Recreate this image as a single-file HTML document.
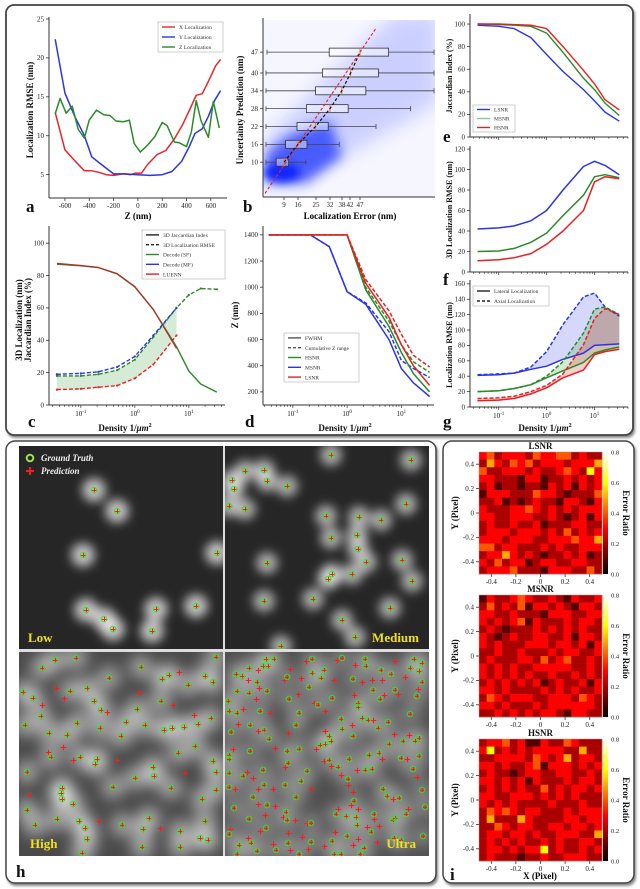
<!DOCTYPE html>
<html><head><meta charset="utf-8"><style>
html,body{margin:0;padding:0;background:#fff;}
svg{display:block;font-family:"Liberation Serif",serif;}
</style></head><body>
<svg id="fig" width="640" height="889" viewBox="0 0 640 889" xmlns="http://www.w3.org/2000/svg">
<defs>
<filter id="blur4" x="-50%" y="-50%" width="200%" height="200%"><feGaussianBlur stdDeviation="4"/></filter>
<filter id="blur5" x="-50%" y="-50%" width="200%" height="200%"><feGaussianBlur stdDeviation="5"/></filter>
<filter id="blur6" x="-50%" y="-50%" width="200%" height="200%"><feGaussianBlur stdDeviation="6"/></filter>
<filter id="blur7" x="-50%" y="-50%" width="200%" height="200%"><feGaussianBlur stdDeviation="7"/></filter>
<filter id="blur9" x="-50%" y="-50%" width="200%" height="200%"><feGaussianBlur stdDeviation="9"/></filter>
<filter id="shadow"><feGaussianBlur stdDeviation="1.2"/></filter>
<linearGradient id="hotgrad" x1="0" y1="1" x2="0" y2="0">
<stop offset="0" stop-color="#000"/><stop offset="0.375" stop-color="#f00"/><stop offset="0.75" stop-color="#ff0"/><stop offset="1" stop-color="#fff"/>
</linearGradient>
</defs>
<rect x="7" y="7" width="628" height="431" rx="8" fill="#888" filter="url(#shadow)"/>
<rect x="6" y="5" width="627" height="430" rx="8" fill="#fff" stroke="#444" stroke-width="1.8"/>
<rect x="7" y="443" width="431" height="443" rx="9" fill="#888" filter="url(#shadow)"/>
<rect x="6" y="441" width="430" height="442" rx="9" fill="#fff" stroke="#444" stroke-width="1.5"/>
<rect x="444" y="443" width="192" height="443" rx="9" fill="#888" filter="url(#shadow)"/>
<rect x="443" y="441" width="191" height="442" rx="9" fill="#fff" stroke="#444" stroke-width="1.5"/>
</svg>
<script>
// ---------------- DATA ----------------
const aXx=[-680,-600,-520,-440,-380,-320,-260,-200,-120,-60,-20,30,80,160,230,300,370,430,480,530,580,640,680];
const aXy=[13,8.2,6.8,5.5,5.5,5.3,5.0,4.9,5.1,5.0,5.2,5.2,6.3,7.6,8.1,9.6,11.5,13.5,15.2,15.4,17,19,19.8];
const aYx=[-680,-600,-520,-440,-380,-300,-200,-100,0,100,200,280,360,420,470,530,580,630,680];
const aYy=[22.4,15.5,12.5,10,7.3,6.3,5.1,5.1,5.0,4.9,5.0,5.4,6.7,8.5,10.3,10.9,12.5,14.5,15.8];
const aZx=[-680,-640,-590,-540,-490,-440,-400,-340,-280,-230,-180,-120,-70,-30,20,80,140,200,240,300,340,400,440,480,520,580,620,670];
const aZy=[12.8,14.8,12.9,13.8,10.8,9.7,12,13.3,12.7,12.6,11.9,11.8,12,9,7.9,8.8,9.9,11.7,11.3,9.2,9.1,8.6,10.5,14.5,11.9,9.8,14.4,11];
const aXTicks=[-600,-400,-200,0,200,400,600];
const aYTicks=[5,10,15,20,25];
const bCats=[10,16,22,28,34,40,47];
const bQ1=[5.1,9.8,15.5,20.2,24.8,28.2,31.6];
const bMed=[9,16,24.8,32,37.9,42.3,47];
const bQ3=[11.3,20.5,31.1,41.1,49.9,56.2,61.3];
const bWlo=[0,0,0,0,0,0,0.5];
const bWhi=[19.9,36.6,55,72.3,84,84,84];
const bXTicks=[9,16,25,32,38,42,47];
const dens=[0.036,0.1,0.21,0.47,1,2.2,5.9,10,16.6,33];
const cJacGreen=[87,86,85,81,73,59,36,21,13,8];
const cJacRed=[87.5,86.2,85,81.2,73.2,59,35];
const cRmseGreen=[18,18,19,21.5,28,42,60,68,72,71.5];
const cRmseBlue=[19,19.5,20.5,23.5,30,43,60];
const cRmseRed=[9.5,10,11,12,16.5,25,43];
const cYTicks=[0,20,40,60,80,100];
const dRedSolid=[1400,1400,1400,1400,1400,1030,770,560,400,250];
const dRedDash=[1400,1400,1400,1400,1400,1060,820,640,480,390];
const dGreenSolid=[1400,1400,1400,1400,1400,980,700,500,340,200];
const dGreenDash=[1400,1400,1400,1400,1400,1000,740,560,430,350];
const dBlueSolid=[1400,1400,1400,1310,966,870,600,378,270,165];
const dBlueDash=[1400,1400,1400,1310,966,880,660,440,380,310];
const dYTicks=[200,400,600,800,1000,1200,1400];
const eRed=[100,100,99.5,99,96,80,59,47,33,24];
const eGreen=[100,99.5,99,98,92,75,52,42,30,19];
const eBlue=[99,98,96,88,73,58,42,32,22,14];
const eYTicks=[0,20,40,60,80,100];
const fBlue=[42,43,45,50,60,80,103,108,104,95];
const fGreen=[20,20.5,23,29,38,55,75,93,95,92];
const fRed=[11,12,14,18,27,40,60,88,93,91];
const fYTicks=[0,20,40,60,80,100,120];
const gBlueSolid=[41,42,44,49,53,62,70,80,81,82];
const gBlueDash=[42,43,44,52,72,107,143,148,130,118];
const gGreenSolid=[20,21,24,29,38,47,58,70,74,78];
const gGreenDash=[20,21,24,29,40,59,96,127,130,120];
const gRedSolid=[8,9,11,17,25,38,48,68,72,75];
const gRedDash=[11,12,14,20,28,43,81,115,128,120];
const gYTicks=[0,20,40,60,80,100,120,140,160];
const lowPts=[[75,44],[98,65],[64,109],[198,107],[67,164],[85,173],[94,183],[137,163],[133,185],[177,160]];
const medPts=[[106,9],[186,14],[20,25],[39,24],[7,34],[9,43],[42,35],[62,40],[4,60],[20,63],[181,58],[101,70],[134,71],[156,74],[106,92],[132,89],[133,103],[141,116],[42,117],[107,128],[103,133],[127,128],[177,114],[187,135],[88,153],[39,155],[165,162],[117,174],[130,191],[56,200]];
const highGT=[[23,16],[36,8],[57,6],[122,15],[90,26],[143,27],[150,23],[169,33],[186,24],[194,30],[197,5],[4,40],[14,46],[51,39],[68,36],[75,49],[82,58],[142,49],[22,64],[6,73],[30,81],[48,83],[58,71],[81,76],[107,70],[118,57],[126,73],[145,78],[153,76],[165,75],[179,72],[192,66],[176,94],[102,84],[32,105],[61,105],[78,107],[76,112],[159,101],[194,109],[197,120],[134,115],[135,124],[116,126],[8,120],[94,135],[152,136],[43,136],[42,141],[43,147],[54,152],[8,158],[183,147],[197,138],[16,173],[38,167],[60,169],[66,176],[68,187],[103,173],[130,166],[124,177],[161,179],[161,195],[181,186],[189,188],[123,195],[63,201],[186,169]];
const highPredOnly=[[37,36],[45,46],[23,53],[44,95],[98,108],[166,121],[80,169],[141,176],[175,63],[154,53],[10,142],[54,108],[29,100],[88,60],[120,40],[160,20]];
const ultraGT=[[41,7],[49,7],[87,7],[117,6],[140,7],[189,7],[197,11],[24,16],[38,14],[43,14],[99,18],[141,14],[156,18],[185,16],[194,19],[11,22],[17,24],[62,25],[87,21],[96,26],[128,27],[166,22],[197,30],[32,30],[12,39],[24,41],[42,39],[84,35],[148,38],[170,38],[192,44],[64,47],[107,46],[155,47],[3,49],[93,53],[133,51],[133,55],[4,59],[12,61],[35,59],[74,61],[185,62],[116,67],[137,66],[143,68],[163,70],[25,73],[71,73],[153,76],[6,80],[39,78],[117,77],[128,84],[104,84],[44,87],[106,89],[178,89],[194,86],[190,89],[100,92],[95,93],[164,92],[25,99],[62,99],[74,97],[4,103],[4,107],[144,103],[154,101],[176,106],[194,104],[104,108],[124,107],[63,111],[113,115],[140,118],[147,117],[188,117],[38,118],[82,119],[4,121],[18,124],[123,127],[76,129],[39,133],[60,133],[4,135],[158,137],[197,138],[28,145],[71,145],[162,144],[174,146],[129,149],[200,155],[42,153],[9,156],[61,160],[111,162],[121,164],[131,165],[149,162],[181,162],[24,167],[62,168],[170,166],[168,168],[86,171],[41,176],[132,173],[4,182],[146,180],[198,184],[122,184],[169,186],[176,188],[26,191],[86,190],[107,189],[14,193],[63,191],[51,198],[32,199],[12,202],[74,202],[109,202],[116,202],[135,202],[139,196]];
const ultraPredOnly=[[81,9],[112,8],[130,13],[170,9],[65,17],[33,18],[23,28],[34,36],[59,28],[76,26],[109,28],[147,28],[137,30],[157,28],[180,25],[193,37],[173,42],[73,42],[31,47],[89,51],[129,43],[159,43],[18,57],[45,61],[100,59],[13,72],[33,79],[63,81],[100,79],[127,73],[148,68],[169,82],[184,83],[50,96],[8,97],[91,97],[99,109],[106,114],[157,107],[182,107],[60,115],[132,118],[22,120],[28,126],[116,123],[192,125],[10,137],[33,137],[48,137],[86,137],[123,133],[128,140],[168,147],[33,152],[50,154],[126,153],[133,157],[183,157],[40,163],[58,165],[70,168],[113,157],[149,167],[82,171],[142,175],[154,174],[5,177],[35,179],[63,181],[110,180],[77,185],[133,187],[23,186],[48,192],[99,194],[128,193],[152,190],[65,198],[83,197]];
const heatLSNR=["3423332433442322","2532434233323335","4223332322343263","3322213312232323","2312212213231323","1333222433212224","2231212322133213","3222334323232333","3322333223212313","2322322312223322","2333233323242323","3332333223334335","4423322232322333","2335323212232312","3242331233223322","2333422213332242"];
const heatMSNR=["1322343223213223","2423241332321332","3322322213332233","3232341322232332","2321222323232322","3212322332231332","3232223332332313","2232232223233223","2322233242342232","3232322333332232","3232323223223232","2323232312322313","3323222232323223","2432333223332432","3323222323333332","2232323233213322"];
const heatHSNR=["2334231132243222","3623232333322522","2233332432352332","3323223413332323","2322123322332232","3323231322232332","2323232242323323","3322333232323222","3232322223222322","2434323322232333","2522253222233233","2243233223323323","2332332322333225","2323232232322332","2332323362322323","2322212232233322"];
const heatTicks=[-0.4,-0.2,0,0.2,0.4];
const cbTicks=[0.0,0.2,0.4,0.6,0.8];

// ---------------- HELPERS ----------------
const NS='http://www.w3.org/2000/svg';
const svg=document.getElementById('fig');
function mk(tag,attrs,parent){const e=document.createElementNS(NS,tag);for(const k in attrs)e.setAttribute(k,attrs[k]);(parent||svg).appendChild(e);return e;}
function txt(x,y,s,attrs,parent){const t=mk('text',Object.assign({x:x,y:y},attrs||{}),parent);t.textContent=s;return t;}
function lin(d0,d1,r0,r1){return v=>r0+(v-d0)/(d1-d0)*(r1-r0);}
function logsc(d0,d1,r0,r1){const f=lin(d0,d1,r0,r1);return v=>f(Math.log10(v));}
function pd(xs,ys,sx,sy){return ys.map((y,i)=>(i?'L':'M')+sx(xs[i]).toFixed(1)+','+sy(y).toFixed(1)).join('');}
function grp(name){const g=mk('g',{});return g;}
function series(g,xs,ys,sx,sy,color,dash,name,w){
  const p=mk('path',{d:pd(xs,ys,sx,sy),fill:'none',stroke:color,'stroke-width':w||1.3,'stroke-linejoin':'round'},g);
  if(dash)p.setAttribute('stroke-dasharray',dash);
  
  
  return p;}
function band(g,xs,y1,y2,sx,sy,fill,name){
  const n=Math.min(y1.length,y2.length);const X=xs.slice(0,n);
  let d=pd(X,y1.slice(0,n),sx,sy);
  for(let i=n-1;i>=0;i--)d+='L'+sx(X[i]).toFixed(1)+','+sy(y2[i]).toFixed(1);
  const p=mk('path',{d:d+'Z',fill:fill,stroke:'none'},g);
  
  }
function spines(g,x0,x1,y0,y1){
  mk('line',{x1:x0,y1:y0,x2:x0,y2:y1,stroke:'#333','stroke-width':1},g);
  mk('line',{x1:x0,y1:y0,x2:x1,y2:y0,stroke:'#333','stroke-width':1},g);}
function yticks(g,ticks,sy,x0,fmt){ticks.forEach(t=>{const y=sy(t);mk('line',{x1:x0-3,y1:y,x2:x0,y2:y,stroke:'#333','stroke-width':0.8},g);
  const l=txt(x0-5,y+2.3,fmt?fmt(t):String(t),{'font-size':7,'text-anchor':'end',fill:'#222'},g);
  });}
function xticks(g,ticks,sx,y0,fmt){ticks.forEach(t=>{const x=sx(t);mk('line',{x1:x,y1:y0,x2:x,y2:y0+3,stroke:'#333','stroke-width':0.8},g);
  if(fmt!==null){const l=txt(x,y0+10,fmt?fmt(t):String(t),{'font-size':7,'text-anchor':'middle',fill:'#222'},g);
  }});}
function logticks(g,sx,y0,x0,x1,labels){
  for(let e=-2;e<=1;e++){for(let m=1;m<10;m++){const v=m*Math.pow(10,e);const x=sx(v);if(x<x0||x>x1)continue;
    mk('line',{x1:x,y1:y0,x2:x,y2:y0+(m===1?3:1.8),stroke:'#333','stroke-width':0.7},g);
    if(m===1&&labels){const t=mk('text',{x:x,y:y0+11,'font-size':7,'text-anchor':'middle',fill:'#222'},g);
      
      const a=mk('tspan',{},t);a.textContent='10';const b=mk('tspan',{'font-size':5,dy:-3});t.appendChild(b);b.textContent=String(e);}}}}
function ytitle(g,x,y,s,size){const t=txt(0,0,s,{'font-size':size||9,'font-weight':'bold','text-anchor':'middle',fill:'#111',transform:'translate('+x+','+y+') rotate(-90)'},g);
  return t;}
function xtitleDensity(g,x,y){const t=txt(x,y,'',{'font-size':9,'font-weight':'bold','text-anchor':'middle',fill:'#111'},g);
  
  const a=mk('tspan',{},t);a.textContent='Density 1/';const b=mk('tspan',{'font-style':'italic'},t);b.textContent='μm';const c=mk('tspan',{'font-size':6,dy:-4},t);c.textContent='2';}
function letter(g,x,y,s){const t=txt(x,y,s,{'font-size':17,'font-weight':'bold',fill:'#111'},g);}
function legend(g,x,y,w,h,items){
  mk('rect',{x:x,y:y,width:w,height:h,fill:'#fff',stroke:'#bbb','stroke-width':0.7},g);
  const step=h/items.length;
  items.forEach((it,i)=>{const yy=y+step*(i+0.5);
    const l=mk('line',{x1:x+4,y1:yy,x2:x+17,y2:yy,stroke:it[1],'stroke-width':1.4},g);if(it[2])l.setAttribute('stroke-dasharray',it[2]);
    const t=txt(x+21,yy+2.2,it[0],{'font-size':5.5,fill:'#333'},g);});}
function dots(g,xs,ys,sx,sy,color){ys.forEach((y,i)=>mk('circle',{cx:sx(xs[i]),cy:sy(y),r:1.1,fill:color},g));}

// ---------------- PANEL A ----------------
(function(){const g=grp('panel-a');
  const sx=lin(-731,733,49,227),sy=lin(2,25,198,19);
  spines(g,49,227,198,17);
  yticks(g,aYTicks,sy,49);xticks(g,aXTicks,sx,198);
  series(g,aXx,aXy,sx,sy,'#e8262a',null,'x-localization-line',1.5);
  series(g,aYx,aYy,sx,sy,'#2a35e8',null,'y-localization-line',1.5);
  series(g,aZx,aZy,sx,sy,'#2a8a2a',null,'z-localization-line',1.5);
  legend(g,158,22,65,30,[['X Localization','#e8262a'],['Y Localization','#2a35e8'],['Z Localization','#2a8a2a']]);
  ytitle(g,33,110,'Localization RMSE (nm)');
  const t=txt(138,219,'Z (nm)',{'font-size':9,'font-weight':'bold','text-anchor':'middle'},g);
  letter(g,26,212,'a');})();

// ---------------- PANEL B ----------------
(function(){const g=grp('panel-b');
  const sx=lin(-1.5,84.5,263,435),sy=lin(-1.7,57.8,197,20);
  const cp=mk('clipPath',{id:'clipb'},g);mk('rect',{x:263,y:20,width:172,height:177},cp);
  const sc=mk('g',{'clip-path':'url(#clipb)'},g);
  
  
  mk('rect',{x:263,y:20,width:172,height:177,fill:'#3a4cff',opacity:0.05},sc);
  mk('path',{d:'M'+sx(0)+','+sy(3)+'L'+sx(14)+','+sy(3)+'L'+sx(45)+','+sy(14)+'L'+sx(86)+','+sy(30)+'L'+sx(86)+','+sy(60)+'L'+sx(65)+','+sy(60)+'L'+sx(30)+','+sy(38)+'L'+sx(0)+','+sy(18)+'Z',fill:'#3a4cff',opacity:0.22,filter:'url(#blur9)'},sc);
  mk('path',{d:'M'+sx(0)+','+sy(3)+'L'+sx(20)+','+sy(3)+'L'+sx(38)+','+sy(12)+'L'+sx(32)+','+sy(24)+'L'+sx(12)+','+sy(19)+'L'+sx(0)+','+sy(13)+'Z',fill:'#1f35ff',opacity:0.75,filter:'url(#blur6)'},sc);
  mk('ellipse',{cx:sx(8),cy:sy(6.5),rx:18,ry:9,fill:'#0a22ff',opacity:0.95,filter:'url(#blur4)'},sc);
  spines(g,263,435,197,18);
  yticks(g,bCats,sy,263);xticks(g,bXTicks,sx,197);
  bCats.forEach((c,i)=>{const y=sy(c);const bx=mk('g',{},g);
    
    
    mk('line',{x1:sx(bWlo[i]),y1:y,x2:sx(bQ1[i]),y2:y,stroke:'#444','stroke-width':0.8},bx);
    mk('line',{x1:sx(bQ3[i]),y1:y,x2:sx(bWhi[i]),y2:y,stroke:'#444','stroke-width':0.8},bx);
    mk('line',{x1:sx(bWlo[i]),y1:y-2.5,x2:sx(bWlo[i]),y2:y+2.5,stroke:'#444','stroke-width':0.8},bx);
    mk('line',{x1:sx(bWhi[i]),y1:y-2.5,x2:sx(bWhi[i]),y2:y+2.5,stroke:'#444','stroke-width':0.8},bx);
    mk('rect',{x:sx(bQ1[i]),y:y-4,width:sx(bQ3[i])-sx(bQ1[i]),height:8,fill:'rgba(255,255,255,0.45)',stroke:'#333','stroke-width':0.8},bx);
    mk('line',{x1:sx(bMed[i]),y1:y-4,x2:sx(bMed[i]),y2:y+4,stroke:'#f08020','stroke-width':1},bx);});
  series(g,bMed,bCats,sx,sy,'#111','3,2','median-trend-line',1.2);
  series(g,[-0.5,55],[-0.5,55],sx,sy,'#e82020','3,2','identity-line',1.1);
  ytitle(g,243,110,'Uncertainty Prediction (nm)');
  const t=txt(350,219,'Localization Error (nm)',{'font-size':9,'font-weight':'bold','text-anchor':'middle'},g);
  letter(g,243,212,'b');})();

// ---------------- PANEL C ----------------
(function(){const g=grp('panel-c');
  const sx=logsc(-1.59,1.67,49,225),sy=lin(0,110,405,227);
  band(g,dens,cRmseGreen.slice(0,7),cRmseRed,sx,sy,'rgba(120,190,120,0.3)','rmse-gap-band');
  spines(g,49,225,405,226);
  yticks(g,cYTicks,sy,49);logticks(g,sx,405,49,225,true);
  series(g,dens,cJacGreen,sx,sy,'#2a8a2a',null,'decode-sf-jaccard',1.4);
  series(g,dens.slice(0,7),cJacRed,sx,sy,'#c02828',null,'luenn-jaccard',1.2);
  series(g,dens,cRmseGreen,sx,sy,'#2a8a2a','4,2','decode-sf-rmse',1.4);dots(g,dens,cRmseGreen,sx,sy,'#2a8a2a');
  series(g,dens,cRmseBlue,sx,sy,'#2a35e8','4,2','decode-mf-rmse',1.4);dots(g,dens,cRmseBlue,sx,sy,'#2a35e8');
  series(g,dens,cRmseRed,sx,sy,'#e82020','4,2','luenn-rmse',1.4);dots(g,dens,cRmseRed,sx,sy,'#e82020');
  legend(g,142,230,83,49,[['3D Jaccardian Index','#222'],['3D Localization RMSE','#222','3,2'],['Decode (SF)','#2a8a2a'],['Decode (MF)','#2a35e8'],['LUENN','#e82020']]);
  ytitle(g,22,320,'3D Localization (nm)');ytitle(g,31,320,'Jaccardian Index (%)');
  xtitleDensity(g,125,431);letter(g,28,427,'c');})();

// ---------------- PANEL D ----------------
(function(){const g=grp('panel-d');
  const sx=logsc(-1.55,1.6,263,434),sy=lin(100,1460,405,227);
  spines(g,263,434,405,226);
  yticks(g,dYTicks,sy,263);logticks(g,sx,405,263,434,true);
  series(g,dens,dBlueSolid,sx,sy,'#2a35e8',null,'msnr-fwhm',1.5);
  series(g,dens,dBlueDash,sx,sy,'#2a35e8','4,2','msnr-z-range',1.5);
  series(g,dens,dGreenSolid,sx,sy,'#2a8a2a',null,'hsnr-fwhm',1.5);
  series(g,dens,dGreenDash,sx,sy,'#2a8a2a','4,2','hsnr-z-range',1.5);
  series(g,dens,dRedSolid,sx,sy,'#e82020',null,'lsnr-fwhm',1.5);
  series(g,dens,dRedDash,sx,sy,'#e82020','4,2','lsnr-z-range',1.5);
  legend(g,284,333,75,49,[['FWHM','#555'],['Cumulative Z range','#555','3,2'],['HSNR','#2a8a2a'],['MSNR','#2a35e8'],['LSNR','#e82020']]);
  ytitle(g,238,315,'Z (nm)');xtitleDensity(g,345,431);letter(g,245,427,'d');})();

// ---------------- PANEL E ----------------
(function(){const g=grp('panel-e');
  const sx=logsc(-1.6,1.7,470,628),sy=lin(0,108,137,15);
  spines(g,470,628,137,14);yticks(g,eYTicks,sy,470);logticks(g,sx,137,470,628,false);
  series(g,dens,eBlue,sx,sy,'#2a35e8',null,'lsnr-jaccard',1.4);
  series(g,dens,eGreen,sx,sy,'#2a8a2a',null,'msnr-jaccard',1.4);
  series(g,dens,eRed,sx,sy,'#e82020',null,'hsnr-jaccard',1.4);
  legend(g,473,105,42,27,[['LSNR','#2a35e8'],['MSNR','#8ec88e'],['HSNR','#e82020']]);
  ytitle(g,452,76,'Jaccardian Index (%)',8);letter(g,443,142,'e');})();

// ---------------- PANEL F ----------------
(function(){const g=grp('panel-f');
  const sx=logsc(-1.6,1.7,470,628),sy=lin(0,122,272,147);
  spines(g,470,628,272,146);yticks(g,fYTicks,sy,470);logticks(g,sx,272,470,628,false);
  series(g,dens,fBlue,sx,sy,'#2a35e8',null,'msnr-rmse',1.5);
  series(g,dens,fGreen,sx,sy,'#2a8a2a',null,'hsnr-rmse',1.5);
  series(g,dens,fRed,sx,sy,'#e82020',null,'lsnr-rmse',1.5);
  ytitle(g,452,210,'3D Localization RMSE (nm)',8);letter(g,443,285,'f');})();

// ---------------- PANEL G ----------------
(function(){const g=grp('panel-g');
  const sx=logsc(-1.6,1.7,470,628),sy=lin(0,165,407,280);
  band(g,dens,gBlueDash,gBlueSolid,sx,sy,'rgba(90,100,240,0.25)','blue-gap-band');
  band(g,dens,gGreenDash,gGreenSolid,sx,sy,'rgba(80,170,80,0.25)','green-gap-band');
  band(g,dens,gRedDash,gRedSolid,sx,sy,'rgba(220,60,60,0.25)','red-gap-band');
  spines(g,470,628,407,280);yticks(g,gYTicks,sy,470);logticks(g,sx,407,470,628,true);
  series(g,dens,gBlueSolid,sx,sy,'#2a35e8',null,'blue-lateral',1.5);
  series(g,dens,gBlueDash,sx,sy,'#2a35e8','4,2','blue-axial',1.5);
  series(g,dens,gGreenSolid,sx,sy,'#2a8a2a',null,'green-lateral',1.5);
  series(g,dens,gGreenDash,sx,sy,'#2a8a2a','4,2','green-axial',1.5);
  series(g,dens,gRedSolid,sx,sy,'#e82020',null,'red-lateral',1.5);
  series(g,dens,gRedDash,sx,sy,'#e82020','4,2','red-axial',1.5);
  legend(g,473,286,76,20,[['Lateral Localization','#222'],['Axial Localization','#222','3,2']]);
  ytitle(g,452,345,'Localization RMSE (nm)',8);xtitleDensity(g,545,431);letter(g,443,427,'g');})();

// ---------------- PANEL H ----------------
function tile(x,y,id,bg,blobR,blobOp,blur,gt,predOnly,label,lx,anchor){
  const g=grp('tile-'+id);
  const cp=mk('clipPath',{id:'clip'+id},g);mk('rect',{x:x,y:y,width:204,height:204},cp);
  const inner=mk('g',{'clip-path':'url(#clip'+id+')'},g);
  mk('rect',{x:x,y:y,width:204,height:204,fill:bg},inner);
  const bl=mk('g',{filter:'url(#'+blur+')'},inner);
  gt.forEach(p=>mk('circle',{cx:x+p[0],cy:y+p[1],r:blobR,fill:'#fff',opacity:blobOp},bl));
  const mg=mk('g',{},inner);
  
  
  gt.concat(predOnly).forEach(p=>{const cx=x+p[0]+0.5,cy=y+p[1]+0.5;
    mk('path',{d:'M'+(cx-2.8)+','+cy+'h5.6M'+cx+','+(cy-2.8)+'v5.6',stroke:'#ff1a1a','stroke-width':1.1},mg);});
  gt.forEach(p=>mk('circle',{cx:x+p[0],cy:y+p[1],r:2.8,fill:'none',stroke:'#22ee22','stroke-width':0.9},mg));
  const t=txt(lx,y+196,label,{'font-size':13,'font-weight':'bold',fill:'#f0e020','text-anchor':anchor},g);
  
}
tile(19,446,'low','#262626',12,0.7,'blur5',lowPts,[],'Low',28,'start');
tile(225,446,'medium','#262626',11,0.6,'blur5',medPts,[],'Medium',419,'end');
tile(19,652,'high','#4a4a4a',12,0.45,'blur7',highGT,highPredOnly,'High',30,'start');
tile(225,652,'ultra','#505050',10,0.3,'blur7',ultraGT,ultraPredOnly,'Ultra',416,'end');
(function(){const g=grp('panel-h-legend');
  mk('rect',{x:223,y:446,width:2,height:410,fill:'#ddd'},g);mk('rect',{x:19,y:649,width:410,height:3,fill:'#ddd'},g);
  mk('circle',{cx:30,cy:458,r:3.3,fill:'none',stroke:'#9ee04a','stroke-width':2},g);
  mk('path',{d:'M26,471h8M30,467v8',stroke:'#ff1a1a','stroke-width':2},g);
  const a=txt(41,461,'Ground Truth',{'font-size':9,'font-weight':'bold','font-style':'italic',fill:'#eee'},g);
  const b=txt(41,474,'Prediction',{'font-size':9,'font-weight':'bold','font-style':'italic',fill:'#eee'},g);
  letter(g,16,877,'h');})();

// ---------------- PANEL I ----------------
function hotColor(v){const t=Math.max(0,Math.min(1,v/0.8));
  const r=Math.min(1,t/0.375),gg=Math.max(0,Math.min(1,(t-0.375)/0.375)),b=Math.max(0,(t-0.75)/0.25);
  return 'rgb('+Math.round(r*255)+','+Math.round(gg*255)+','+Math.round(b*255)+')';}
function heatmap(y0,rows,title){
  const g=grp('heatmap-'+title.toLowerCase());
  const x0=479,w=123,h=122,n=rows.length,cw=w/16,ch=h/n;
  const sx=lin(-0.5,0.5,x0,x0+w),sy=lin(-0.5,0.5,y0+h,y0);
  rows.forEach((row,ri)=>{for(let ci=0;ci<row.length;ci++){const v=Number(row[ci])/10;
    const c=mk('rect',{x:(x0+ci*cw).toFixed(2),y:(y0+ri*ch).toFixed(2),width:(cw+0.3).toFixed(2),height:(ch+0.3).toFixed(2),fill:hotColor(v)},g);
    
    }});
  mk('rect',{x:x0,y:y0,width:w,height:h,fill:'none',stroke:'#999','stroke-width':0.5},g);
  yticks(g,heatTicks,sy,x0);xticks(g,heatTicks,sx,y0+h);
  const tt=txt(x0+w/2,y0-3,title,{'font-size':9,'font-weight':'bold','text-anchor':'middle',fill:'#111'},g);
  
  const cb=mk('rect',{x:603,y:y0,width:5,height:h,fill:'url(#hotgrad)'},g);
  
  const sc=lin(0,0.8,y0+h,y0);
  cbTicks.forEach(t=>{const l=txt(611,sc(t)+2.3,t.toFixed(1),{'font-size':6.5,fill:'#222'},g);});
  const et=txt(0,0,'Error Ratio',{'font-size':9,'font-weight':'bold','text-anchor':'middle',fill:'#111',transform:'translate(623,'+(y0+h/2)+') rotate(90)'},g);
  
  ytitle(g,458,y0+h/2,'Y (Pixel)');
}
heatmap(452,heatLSNR,'LSNR');
heatmap(595,heatMSNR,'MSNR');
heatmap(739,heatHSNR,'HSNR');
(function(){const g=grp('panel-i-extra');
  const t=txt(540,879,'X (Pixel)',{'font-size':9,'font-weight':'bold','text-anchor':'middle'},g);
  letter(g,450,880,'i');})();
</script>
</body></html>
